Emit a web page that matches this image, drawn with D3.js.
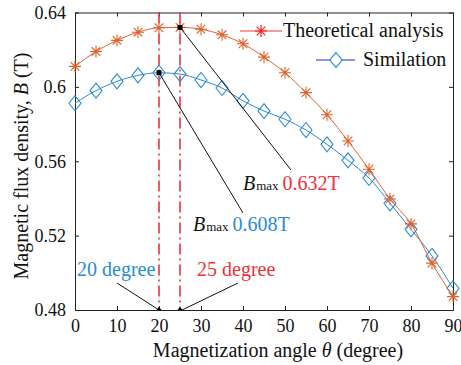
<!DOCTYPE html>
<html>
<head>
<meta charset="utf-8">
<script src="https://cdn.jsdelivr.net/npm/d3@7"></script>
<style>
  body { margin: 0; background: #fff; }
  svg text { font-family: "Liberation Serif", "Times New Roman", serif; }
</style>
</head>
<body>
<div id="chart"></div>
<script>
// magnetization angle (degree)
const angles = [0, 5, 10, 15, 20, 25, 30, 35, 40, 45, 50, 55, 60, 65, 70, 75, 80, 85, 90];
// theoretical analysis, B (T)
const theoretical = [0.611, 0.619, 0.625, 0.6294, 0.6318, 0.632, 0.631, 0.628, 0.6232, 0.616,
  0.6076, 0.5969, 0.585, 0.5709, 0.5557, 0.5397, 0.5263, 0.5052, 0.4872];
// simulation, B (T)
const simulation = [0.5912, 0.598, 0.603, 0.6062, 0.6076, 0.6069, 0.6037, 0.5994, 0.5925, 0.587,
  0.5826, 0.5768, 0.5691, 0.5605, 0.551, 0.5374, 0.5234, 0.5091, 0.4917];
const xTicks = [0, 10, 20, 30, 40, 50, 60, 70, 80, 90];
const yTicks = [0.48, 0.52, 0.56, 0.6, 0.64];
const seriesNames = ["Theoretical analysis", "Similation"];

const width = 461, height = 365;
const margin = { top: 12.5, right: 8, bottom: 55, left: 75 };
const serif = '"Liberation Serif", "Times New Roman", serif';

const orange = "#e2612a", blue = "#2a8bd6", red = "#f0303a";

const svg = d3.select("#chart").append("svg")
  .attr("width", width).attr("height", height);

const x = d3.scaleLinear().domain([0, 90]).range([margin.left, width - margin.right]);
const y = d3.scaleLinear().domain([0.48, 0.64]).range([height - margin.bottom, margin.top]);

// box axes, ticks pointing inward
const fmtY = d => d3.format(".2f")(d).replace(/0$/, "");
const axB = svg.append("g").attr("transform", `translate(0,${y(0.48)})`)
  .call(d3.axisBottom(x).tickValues(xTicks).tickSizeInner(-4).tickSizeOuter(0).tickPadding(9));
const axL = svg.append("g").attr("transform", `translate(${x(0)},0)`)
  .call(d3.axisLeft(y).tickValues(yTicks).tickFormat(fmtY).tickSizeInner(-4).tickSizeOuter(0).tickPadding(9));
const axT = svg.append("g").attr("transform", `translate(0,${y(0.64)})`)
  .call(d3.axisTop(x).tickValues(xTicks).tickFormat("").tickSizeInner(-4).tickSizeOuter(0));
const axR = svg.append("g").attr("transform", `translate(${x(90)},0)`)
  .call(d3.axisRight(y).tickValues(yTicks).tickFormat("").tickSizeInner(-4).tickSizeOuter(0));
[axB, axL, axT, axR].forEach(a => {
  a.attr("font-family", serif).attr("font-size", 18);
  a.selectAll("text").style("font-family", serif).style("font-size", "18px").attr("fill", "#111");
  a.selectAll("line,path").attr("stroke", "#222");
});
axB.selectAll("text").attr("dy", "0.71em");

// axis labels
svg.append("text").attr("x", 278).attr("y", 357).attr("text-anchor", "middle")
  .style("font-size", "20px").attr("fill", "#111")
  .html('Magnetization angle <tspan font-style="italic">θ</tspan> (degree)');
svg.append("text").attr("transform", "translate(28,166) rotate(-90)").attr("text-anchor", "middle")
  .style("font-size", "20px").attr("fill", "#111")
  .html('Magnetic flux density, <tspan font-style="italic">B</tspan> (T)');

// vertical dash-dot lines at the peak angles
[20, 25].forEach(a => {
  svg.append("line").attr("x1", x(a)).attr("x2", x(a)).attr("y1", y(0.64)).attr("y2", y(0.48))
    .attr("stroke", red).attr("stroke-width", 1.6).attr("stroke-dasharray", "11,4,2,4");
});

const starPath = "M-6,0L6,0M0,-6L0,6M-4.3,-4.3L4.3,4.3M-4.3,4.3L4.3,-4.3";
const diamondPath = "M0,-7.5L6,0L0,7.5L-6,0Z";

const line = d3.line().x(d => x(d[0])).y(d => y(d[1])).curve(d3.curveMonotoneX);

// simulation
const simPts = angles.map((a, i) => [a, simulation[i]]);
svg.append("path").datum(simPts).attr("d", line).attr("fill", "none")
  .attr("stroke", blue).attr("stroke-width", 1);
svg.selectAll(".dia").data(simPts).enter().append("path")
  .attr("transform", d => `translate(${x(d[0])},${y(d[1])})`)
  .attr("d", diamondPath).attr("fill", "none").attr("stroke", blue).attr("stroke-width", 1.1);

// theoretical
const thPts = angles.map((a, i) => [a, theoretical[i]]);
svg.append("path").datum(thPts).attr("d", line).attr("fill", "none")
  .attr("stroke", orange).attr("stroke-width", 1);
svg.selectAll(".star").data(thPts).enter().append("path")
  .attr("transform", d => `translate(${x(d[0])},${y(d[1])})`)
  .attr("d", starPath).attr("fill", "none").attr("stroke", orange).attr("stroke-width", 1.1);

// max annotations
const ann = svg.append("g");
const thMax = [25, 0.632], simMax = [20, 0.6076];
ann.append("line").attr("x1", x(thMax[0])).attr("y1", y(thMax[1])).attr("x2", 291).attr("y2", 170)
  .attr("stroke", "#111").attr("stroke-width", 1);
ann.append("line").attr("x1", x(simMax[0])).attr("y1", y(simMax[1])).attr("x2", 243).attr("y2", 213)
  .attr("stroke", "#111").attr("stroke-width", 1);
[thMax, simMax].forEach(p => {
  ann.append("rect").attr("x", x(p[0]) - 2.5).attr("y", y(p[1]) - 2.5)
    .attr("width", 5).attr("height", 5).attr("fill", "#000");
});

function bmax(tx, ty, val, col) {
  const t = ann.append("text").attr("x", tx).attr("y", ty).style("font-size", "20px").attr("fill", "#111");
  t.append("tspan").attr("font-style", "italic").text("B");
  t.append("tspan").style("font-size", "13px").attr("dx", 1).text("max");
  t.append("tspan").attr("dx", 4).attr("fill", col).text(val);
}
bmax(243, 190, "0.632T", red);
bmax(193, 231, "0.608T", blue);

// degree callouts
ann.append("text").attr("x", 77).attr("y", 276).style("font-size", "20px").attr("fill", blue).text("20 degree");
ann.append("text").attr("x", 197).attr("y", 276).style("font-size", "20px").attr("fill", red).text("25 degree");
ann.append("line").attr("x1", 117).attr("y1", 283).attr("x2", x(20)).attr("y2", y(0.48))
  .attr("stroke", "#111").attr("stroke-width", 1);
ann.append("line").attr("x1", 238).attr("y1", 283).attr("x2", x(25) + 2).attr("y2", y(0.48))
  .attr("stroke", "#111").attr("stroke-width", 1);
[20, 25].forEach(a => {
  ann.append("path").attr("transform", `translate(${x(a)},${y(0.48)})`)
    .attr("d", "M-2.5,0L0,-3L2.5,0Z").attr("fill", "#000");
});

// legend
const lg = svg.append("g");
lg.append("line").attr("x1", 240).attr("x2", 282).attr("y1", 31).attr("y2", 31)
  .attr("stroke", "#f47c7c").attr("stroke-width", 1.6);
lg.append("path").attr("transform", "translate(261,31)").attr("d", starPath)
  .attr("fill", "none").attr("stroke", "#ff1f1f").attr("stroke-width", 1.2);
lg.append("text").attr("x", 283).attr("y", 37).style("font-size", "20px").attr("fill", "#111").text(seriesNames[0]);
lg.append("line").attr("x1", 316).attr("x2", 355).attr("y1", 60).attr("y2", 60)
  .attr("stroke", "#6b6bf2").attr("stroke-width", 1.6);
lg.append("path").attr("transform", "translate(336,60)").attr("d", diamondPath)
  .attr("fill", "#fff").attr("stroke", blue).attr("stroke-width", 1.2);
lg.append("text").attr("x", 363).attr("y", 66).style("font-size", "20px").attr("fill", "#111").text(seriesNames[1]);
</script>
</body>
</html>
